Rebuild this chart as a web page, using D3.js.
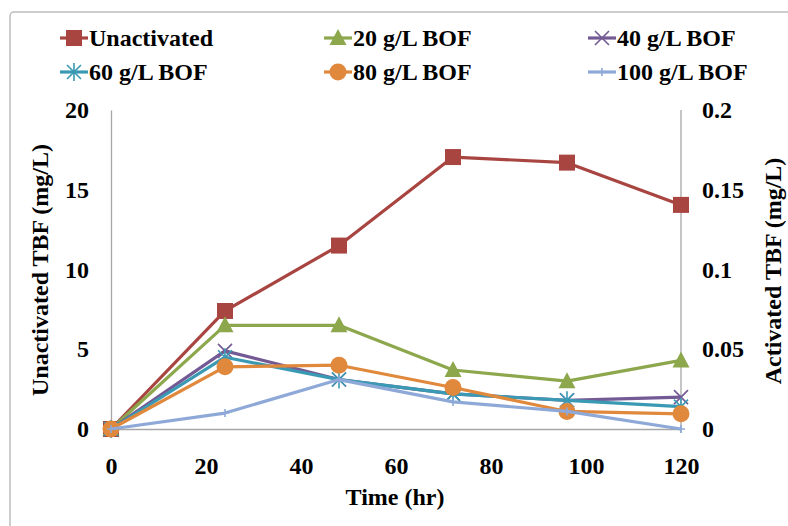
<!DOCTYPE html>
<html>
<head>
<meta charset="utf-8">
<script src="https://cdn.jsdelivr.net/npm/d3@7"></script>
<style>
  html, body { margin: 0; padding: 0; background: #fff; }
  svg { display: block; }
  svg text { font-family: 'Liberation Serif', 'Times New Roman', Tinos, 'DejaVu Serif', serif !important; font-weight: bold; fill: #000; }
</style>
</head>
<body>
<svg id="chart" width="788" height="526"></svg>
<script>
// Sampling times (hr)
const times = [0, 24, 48, 72, 96, 120];

// Unactivated TBF, left axis (mg/L)
const unactivated = [0, 7.4, 11.5, 17.05, 16.7, 14.05];

// Activated TBF, right axis (mg/L)
const bof20 = [0, 0.065, 0.065, 0.037, 0.030, 0.043];
const bof40 = [0, 0.049, 0.031, 0.022, 0.018, 0.020];
const bof60 = [0, 0.045, 0.031, 0.022, 0.018, 0.014];
const bof80 = [0, 0.039, 0.040, 0.026, 0.011, 0.0095];
const bof100 = [0, 0.010, 0.031, 0.017, 0.011, 0];

const seriesNames = ["Unactivated", "20 g/L BOF", "40 g/L BOF", "60 g/L BOF", "80 g/L BOF", "100 g/L BOF"];

const xTicks = [0, 20, 40, 60, 80, 100, 120];
const leftTicks = [0, 5, 10, 15, 20];
const rightTicks = [0, 0.05, 0.1, 0.15, 0.2];

const svg = d3.select("#chart");

const x = d3.scaleLinear().domain([0, 120]).range([111, 681]);
const yL = d3.scaleLinear().domain([0, 20]).range([429, 110]);
const yR = d3.scaleLinear().domain([0, 0.2]).range([429, 110]);

// Outer chart frame
svg.append("rect")
  .attr("x", 10).attr("y", 12).attr("width", 800).attr("height", 540)
  .attr("rx", 4)
  .attr("fill", "none").attr("stroke", "#bdbdbd").attr("stroke-width", 1.5);

// Axes
const axisColor = "#a6a6a6";
const xAxis = svg.append("g").attr("transform", `translate(0,${yL(0)})`)
  .call(d3.axisBottom(x).tickValues(xTicks).tickSize(0).tickPadding(28).tickFormat(d3.format("d")));
const leftAxis = svg.append("g").attr("transform", `translate(${x(0)},0)`)
  .call(d3.axisLeft(yL).tickValues(leftTicks).tickSize(0).tickPadding(22).tickFormat(d3.format("d")));
const rightAxis = svg.append("g").attr("transform", `translate(${x(120)},0)`)
  .call(d3.axisRight(yR).tickValues(rightTicks).tickSize(0).tickPadding(21).tickFormat(d => d === 0 ? "0" : String(+d.toFixed(2))));

[xAxis, leftAxis, rightAxis].forEach(g => {
  g.attr("font-family", null).attr("font-size", null);
  g.select(".domain").attr("stroke", axisColor).attr("stroke-width", 1.3);
  g.selectAll("text").style("font-size", "24px").attr("fill", "#000");
});
xAxis.selectAll("text").attr("dy", "0.71em");
// Right axis extends a little below zero
rightAxis.select(".domain").attr("d", `M0,${yR(0.2)}V${yR(0) + 4}`);

// Axis titles
svg.append("text").attr("x", 395).attr("y", 505).attr("text-anchor", "middle")
  .style("font-size", "24px").text("Time (hr)");
svg.append("text").attr("transform", "translate(48,270) rotate(-90)").attr("text-anchor", "middle")
  .style("font-size", "24px").text("Unactivated TBF (mg/L)");
svg.append("text").attr("transform", "translate(781,271) rotate(-90)").attr("text-anchor", "middle")
  .style("font-size", "24px").text("Activated TBF (mg/L)");

// Marker shapes
function markerPath(type) {
  switch (type) {
    case "square": return "M-8,-8H8V8H-8Z";
    case "triangle": return "M0,-9L8.5,7H-8.5Z";
    case "x": return "M-7,-7L7,7M-7,7L7,-7";
    case "star": return "M-7,-7L7,7M-7,7L7,-7M0,-9V9";
    case "plus": return "M-4,0H4M0,-4V4";
    default: return null;
  }
}

const series = [
  { name: seriesNames[0], values: unactivated, y: yL, color: "#A84541", marker: "square" },
  { name: seriesNames[1], values: bof20, y: yR, color: "#8CA74C", marker: "triangle" },
  { name: seriesNames[2], values: bof40, y: yR, color: "#745A95", marker: "x" },
  { name: seriesNames[3], values: bof60, y: yR, color: "#3A9AB3", marker: "star" },
  { name: seriesNames[4], values: bof80, y: yR, color: "#E0883C", marker: "circle" },
  { name: seriesNames[5], values: bof100, y: yR, color: "#8EA9D8", marker: "plus" }
];

function drawMarker(g, s, cx, cy) {
  if (s.marker === "circle") {
    g.append("circle").attr("cx", cx).attr("cy", cy).attr("r", 8.5).attr("fill", s.color);
  } else {
    const filled = s.marker === "square" || s.marker === "triangle";
    g.append("path").attr("d", markerPath(s.marker))
      .attr("transform", `translate(${cx},${cy})`)
      .attr("fill", filled ? s.color : "none")
      .attr("stroke", s.color).attr("stroke-width", filled ? 0 : 1.6);
  }
}

const plot = svg.append("g");
series.forEach(s => {
  const pts = times.map((t, i) => [x(t), s.y(s.values[i])]);
  plot.append("path")
    .attr("d", d3.line()(pts))
    .attr("fill", "none").attr("stroke", s.color).attr("stroke-width", 3.2)
    .attr("stroke-linejoin", "round");
  const mg = plot.append("g");
  pts.forEach(p => drawMarker(mg, s, p[0], p[1]));
});

// Legend
const legendCols = [74, 338, 602];
const legendRows = [38, 72];
series.forEach((s, i) => {
  const lx = legendCols[i % 3], ly = legendRows[Math.floor(i / 3)];
  const g = svg.append("g");
  g.append("line").attr("x1", lx - 14).attr("x2", lx + 14).attr("y1", ly).attr("y2", ly)
    .attr("stroke", s.color).attr("stroke-width", 3.2);
  drawMarker(g, s, lx, ly);
  g.append("text").attr("x", lx + 15).attr("y", ly).attr("dy", "0.35em")
    .style("font-size", "24px").text(s.name);
});
</script>
</body>
</html>
